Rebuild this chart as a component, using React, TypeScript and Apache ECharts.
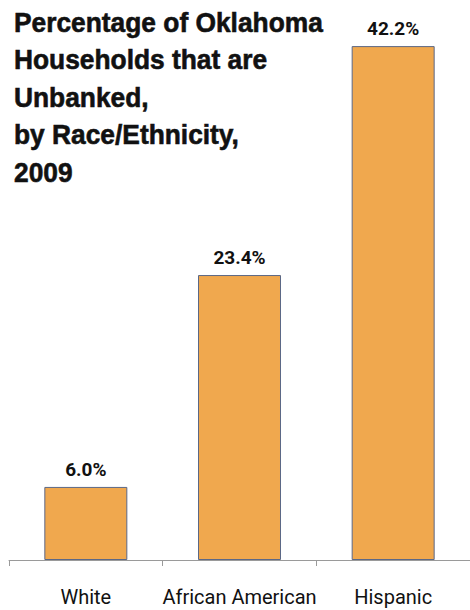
import React, { useEffect, useRef } from "react";
import * as echarts from "echarts";

const titleLines = [
  "Percentage of Oklahoma",
  "Households that are",
  "Unbanked,",
  "by Race/Ethnicity,",
  "2009",
];
const categories = ["White", "African American", "Hispanic"];
const values = [6.0, 23.4, 42.2];

const TITLE_FONT = "'Liberation Sans', Arial, sans-serif";
const FONT = "Roboto, 'Liberation Sans', sans-serif";

export default function App() {
  const ref = useRef<HTMLDivElement>(null);
  useEffect(() => {
    document.body.style.margin = "0";
    let scaleX = 0.85;
    try {
      const c = document.createElement("canvas").getContext("2d")!;
      c.font = "bold 28px " + TITLE_FONT;
      const w = c.measureText(titleLines[0]).width;
      if (w > 0) scaleX = 309 / w;
    } catch (e) {}
    const chart = echarts.init(ref.current!, null, { renderer: "svg" });
    chart.setOption({
      animation: false,
      backgroundColor: "#ffffff",
      graphic: [
        {
          type: "text",
          x: 14,
          y: 3,
          scaleX: scaleX,
          style: {
            text: titleLines.join("\n"),
            font: "bold 28px " + TITLE_FONT,
            lineHeight: 37.5,
            fill: "#111111",
            stroke: "#111111",
            lineWidth: 0.6,
            textVerticalAlign: "top",
          },
        },
      ],
      grid: { left: 9, right: -1, top: 12, height: 548 },
      xAxis: {
        type: "category",
        data: categories,
        axisLine: { lineStyle: { color: "#9a9a9a", width: 1 } },
        axisTick: { show: true, length: 6, lineStyle: { color: "#9a9a9a" } },
        axisLabel: {
          interval: 0,
          fontFamily: FONT,
          fontSize: 20,
          color: "#111111",
          margin: 27,
        },
      },
      yAxis: {
        type: "value",
        min: 0,
        max: 45,
        show: false,
        splitLine: { show: false },
      },
      series: [
        {
          type: "bar",
          data: values,
          barWidth: 83,
          itemStyle: {
            color: "#F0A84E",
            borderColor: "#5b6886",
            borderWidth: 1,
          },
          label: {
            show: true,
            position: "top",
            distance: 8,
            formatter: (p: any) => p.value.toFixed(1) + "%",
            fontFamily: FONT,
            fontWeight: "bold",
            fontSize: 19,
            color: "#111111",
          },
        },
      ],
    });
    return () => chart.dispose();
  }, []);
  return <div ref={ref} style={{ width: 470, height: 610 }} />;
}
